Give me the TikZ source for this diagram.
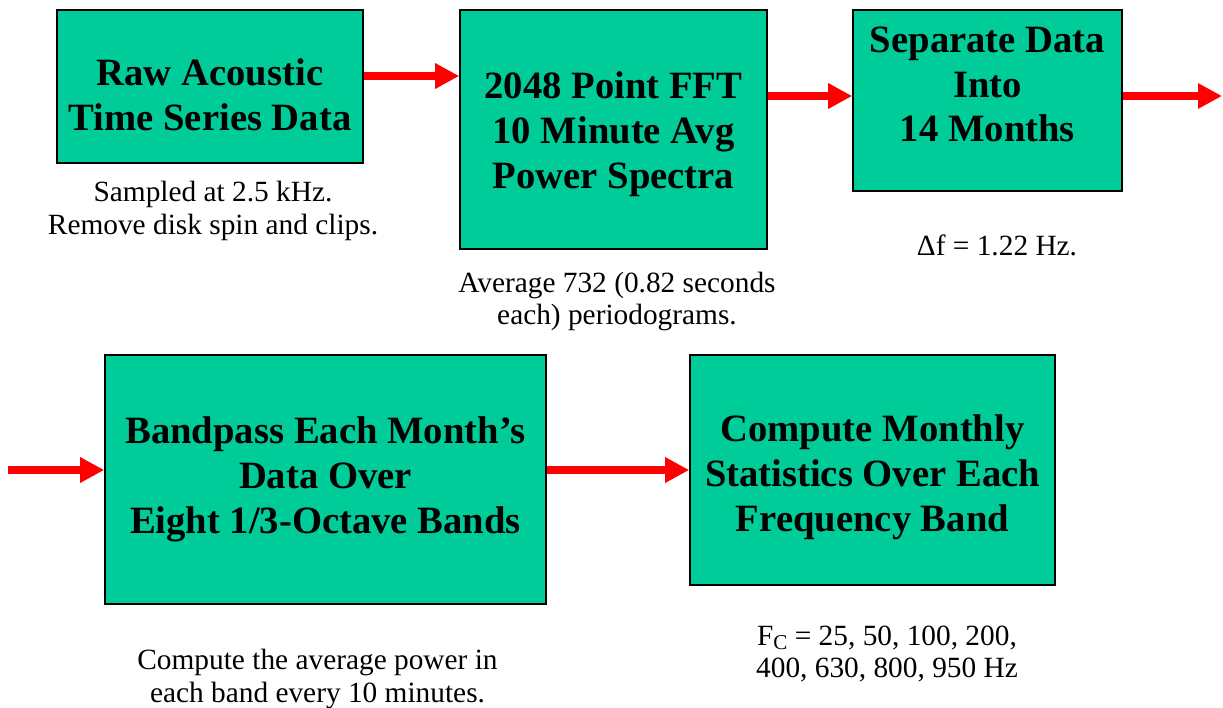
\documentclass[tikz,border=0pt]{standalone}
\usepackage{fontspec}
\setmainfont{Liberation Serif}
\usepackage{xcolor}
\usetikzlibrary{arrows.meta,positioning,calc}
\definecolor{boxgreen}{HTML}{00CC99}
\definecolor{flowred}{HTML}{FF0000}

\begin{document}
\begin{tikzpicture}[
  stage/.style={draw=black,line width=0.9pt,fill=boxgreen,inner sep=0pt},
  stagetext/.style={align=center,inner sep=0pt,font=\fontsize{22}{25.5}\selectfont\bfseries},
  note/.style={align=center,inner sep=0pt,font=\fontsize{16.7}{18.5}\selectfont},
  flow/.style={-{Triangle[length=4.8mm,width=4.8mm]},draw=flowred,line width=4.5pt}]
  \useasboundingbox (0,0) rectangle (24.46,-14.14);
  % Row 1
  \node[stage,minimum width=6.12cm,minimum height=3.06cm] (raw) at (4.2,-1.73) {};
  \node[stagetext] (rawtxt) at ([yshift=-1.6mm]raw.center) {Raw Acoustic\\Time Series Data};
  \node[stage,minimum width=6.14cm,minimum height=4.78cm] (fft) at (12.27,-2.59) {};
  \node[stagetext] (ffttxt) at ([yshift=-1mm]fft.center) {2048 Point FFT\\10 Minute Avg\\Power Spectra};
  \node[stage,minimum width=5.38cm,minimum height=3.62cm] (sep) at (19.75,-2.01) {};
  \node[stagetext] (septxt) at ([yshift=3.2mm]sep.center) {Separate Data\\Into\\14 Months};
  \node[note] (rawnote) at (4.26,-4.22) {Sampled at 2.5 kHz.\\Remove disk spin and clips.};
  \node[note] (fftnote) at (12.34,-6.03) {Average 732 (0.82 seconds\\each) periodograms.};
  \node[note] (sepnote) at (19.94,-4.9) {Δf = 1.22 Hz.};
  % Row 2
  \node[stage,minimum width=8.82cm,minimum height=4.98cm] (band) at (6.51,-9.59) {};
  \node[stagetext] (bandtxt) at (band.center) {Bandpass Each Month’s\\Data Over\\Eight 1/3-Octave Bands};
  \node[stage,minimum width=7.30cm,minimum height=4.60cm] (stats) at (17.45,-9.40) {};
  \node[stagetext] (statstxt) at ([yshift=-1.5mm]stats.center) {Compute Monthly\\Statistics Over Each\\Frequency Band};
  \node[note] (bandnote) at (6.35,-13.58) {Compute the average power in\\each band every 10 minutes.};
  \node[note] (statsnote) at (17.74,-13.08)
    {F\raisebox{-0.35ex}{\fontsize{12}{12}\selectfont C} = 25, 50, 100, 200,\\400, 630, 800, 950 Hz};
  % arrows
  \coordinate (out) at (24.44,-1.92);
  \coordinate (in) at (0.16,-9.40);
  \draw[flow] ([yshift=2.1mm]raw.east) -- ([yshift=2.1mm]raw.east -| fft.west);
  \draw[flow] ([yshift=6.7mm]fft.east) -- ([yshift=6.7mm]fft.east -| sep.west);
  \draw[flow] (sep.east |- out) -- (out);
  \draw[flow] (in) -- (in -| band.west);
  \draw[flow] (band.east |- stats.west) -- (stats.west);
\end{tikzpicture}
\end{document}
